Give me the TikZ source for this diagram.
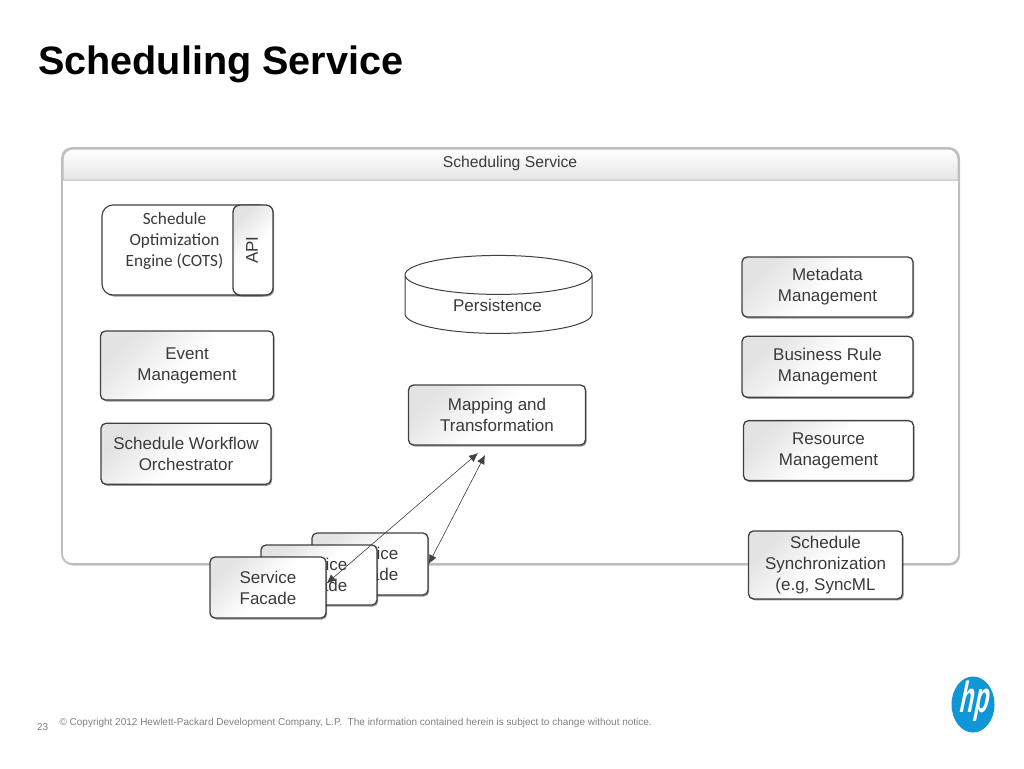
\documentclass[tikz,border=0pt]{standalone}
\usepackage{fontspec}
\setmainfont{Liberation Sans}
\newfontfamily\calibri{Carlito}
\newfontfamily\hpfont{Liberation Sans}[BoldFeatures={FakeSlant=0.38}]
\usepackage{xcolor}
\usetikzlibrary{positioning, arrows.meta, shapes.geometric, shadows}
\definecolor{ink}{HTML}{3A3A3A}
\definecolor{edge}{HTML}{404040}
\definecolor{frameline}{HTML}{BEBEBE}
\definecolor{hpblue}{HTML}{0F96D6}

\begin{document}
\begin{tikzpicture}[
    x=1pt, y=-1pt,
    font=\fontsize{17}{21}\selectfont,
    softshadow/.style={drop shadow={shadow xshift=1.2pt, shadow yshift=-1.5pt, opacity=0.4, fill=black}},
    box/.style={rectangle, draw=edge, line width=1.3pt, rounded corners=5pt, top color=black!11, bottom color=white, middle color=white, shading angle=45, align=center, inner sep=2pt, text=ink, softshadow},
    enginebox/.style={rectangle, draw=edge, line width=1.1pt, rounded corners=11pt, fill=white, minimum width=170pt, minimum height=90pt, softshadow},
    calibritext/.style={align=center, text=ink, font=\calibri\fontsize{17.2}{21}\selectfont},
    arr/.style={{Latex[length=9pt,width=8pt]}-{Latex[length=9pt,width=8pt]}, line width=0.6pt, edge}
]
\useasboundingbox (0,0) rectangle (1024,768);
\node[anchor=west, font=\fontsize{39.6}{44}\selectfont\bfseries] (title) at (34.5,64) {Scheduling Service};

% container
\node[rectangle, draw=frameline, line width=1.8pt, rounded corners=10pt, fill=white, minimum width=897pt, minimum height=416pt, drop shadow={shadow xshift=1pt, shadow yshift=-1.5pt, opacity=0.25, fill=black}] (frame) at (510.5,356) {};
\path[draw=frameline, line width=1pt, top color=white, bottom color=black!10] (63,180) [rounded corners=10pt] -- (63,149) -- (958,149) -- (958,170) [sharp corners] -- (958,180) -- cycle;
\node[font=\fontsize{15.7}{19}\selectfont, text=ink] (head) at (510,163) {Scheduling Service};

% left column
\node[enginebox] (engine) at (187,250) {};
\node[calibritext] (enginetxt) at (174.5,241.5) {Schedule\\Optimization\\Engine (COTS)};
\node[box, rounded corners=7pt, minimum width=40pt, minimum height=90pt] (api) at (253,250) {};
\node[rotate=90, text=ink] (apitxt) at (252,250) {API};
\node[box, minimum width=173pt, minimum height=69pt] (event) at (187,365.5) {Event\\Management};
\node[box, minimum width=170pt, minimum height=61pt, below=22pt of event, xshift=-1pt] (flow) {Schedule Workflow\\Orchestrator};

% middle column
\node[cylinder, shape border rotate=90, aspect=0.4, draw=edge, line width=1pt, fill=white, minimum width=187pt, minimum height=78pt, text=ink] (store) at (498.5,307) {\raisebox{4pt}{Persistence\kern2pt}};
\node[box, minimum width=177pt, minimum height=60pt] (map) at (497,415) {Mapping and\\Transformation};

% right column
\node[box, minimum width=171pt, minimum height=60pt] (meta) at (827.5,287) {Metadata\\Management};
\node[box, minimum width=171pt, minimum height=61pt, below=18pt of meta] (rule) {Business Rule\\Management};
\node[box, minimum width=170pt, minimum height=60pt, below=22pt of rule, xshift=1pt] (res) {Resource\\Management};
\node[box, minimum width=154pt, minimum height=68pt, below=49pt of res, xshift=-3pt] (sync) {Schedule\\Synchronization\\(e.g, SyncML};

% facade stack
\node[box, minimum width=116pt, minimum height=62pt] (back) at (370,564) {Service\\Facade};
\node[box, minimum width=116pt, minimum height=60pt] (mid) at (319,575) {Service\\Facade};
\node[box, minimum width=116pt, minimum height=61pt] (front) at (268,587.5) {Service\\Facade};

\coordinate (mapa) at (478,453);
\coordinate (mapb) at (485,455);
\draw[arr] (mapa) -- (front.4);
\draw[arr] (mapb) -- (back.east);

% footer
\node[anchor=west, font=\fontsize{10}{12}\selectfont, text=black!50] (copy) at (56,722.5) {© Copyright 2012 Hewlett-Packard Development Company, L.P.\ \ The information contained herein is subject to change without notice.};
\node[anchor=west, font=\fontsize{10}{12}\selectfont, text=black!50] (page) at (33.5,727) {23};
\node[ellipse, fill=hpblue, minimum width=43pt, minimum height=56pt, inner sep=0pt] (logo) at (973,704.5) {};
\node[text=white, inner sep=0pt, font=\hpfont\fontsize{30}{30}\selectfont\bfseries] (logotxt) at (973,701) {\scalebox{0.78}[1.45]{hp}};
\end{tikzpicture}
\end{document}
